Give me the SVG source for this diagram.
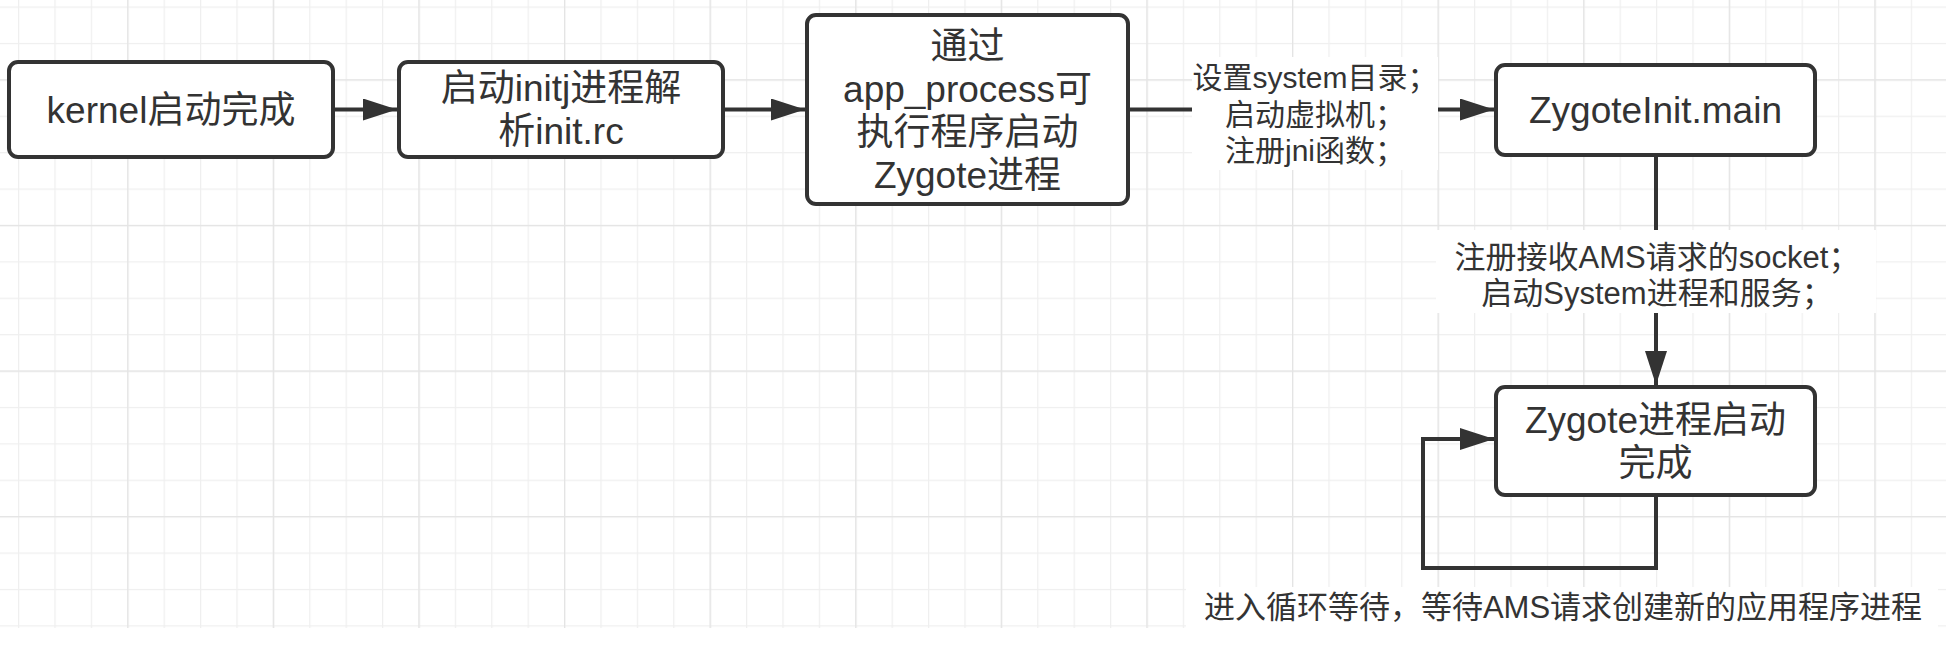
<svg xmlns="http://www.w3.org/2000/svg" width="1946" height="646" viewBox="0 0 1946 646">
<style>
.box{fill:#ffffff;stroke:#333333;stroke-width:4}
.conn{fill:none;stroke:#333333;stroke-width:4}
.t{font-family:"Liberation Sans","Noto Sans CJK SC",sans-serif;font-size:37px;fill:#333333;text-anchor:middle}
.lt{font-family:"Liberation Sans","Noto Sans CJK SC",sans-serif;font-size:30px;fill:#333333;text-anchor:middle}
.lt2{font-family:"Liberation Sans","Noto Sans CJK SC",sans-serif;font-size:31px;fill:#333333;text-anchor:middle}
.lbg{fill:#ffffff}
</style>
<defs>
<pattern id="minor" patternUnits="userSpaceOnUse" x="18" y="6.5" width="36.4" height="36.4">
<path d="M0.5,0 V36.4 M0,0.5 H36.4" stroke="#efefef" stroke-width="1.5" fill="none"/>
</pattern>
<pattern id="major" patternUnits="userSpaceOnUse" x="127.2" y="79.3" width="145.6" height="145.6">
<path d="M0.5,0 V145.6 M0,0.5 H145.6" stroke="#e4e4e4" stroke-width="1.5" fill="none"/>
</pattern>
<marker id="arr" markerUnits="userSpaceOnUse" markerWidth="34" markerHeight="22" refX="34" refY="11" orient="auto">
<path d="M0,0 L34,11 L0,22 z" fill="#333333"/>
</marker>
</defs>
<rect width="1946" height="646" fill="#ffffff"/>
<rect x="0" y="0" width="1946" height="628" fill="url(#minor)"/>
<rect x="0" y="0" width="1946" height="628" fill="url(#major)"/>

<g id="connectors">
<path class="conn" d="M333,109.5 H397" marker-end="url(#arr)"/>
<path class="conn" d="M723,109.5 H805" marker-end="url(#arr)"/>
<path class="conn" d="M1128,109.5 H1494" marker-end="url(#arr)"/>
<path class="conn" d="M1656,155 V385" marker-end="url(#arr)"/>
<path class="conn" d="M1656,495 V568 H1423 V439 H1494" marker-end="url(#arr)"/>
<g id="label-zygote">
<rect class="lbg" x="1192" y="57" width="246" height="113"/>
<text class="lt" x="1315" y="88">设置system目录；</text>
<text class="lt" x="1315" y="125">启动虚拟机；</text>
<text class="lt" x="1315" y="161">注册jni函数；</text>
</g>
<g id="label-main">
<rect class="lbg" x="1436" y="230" width="440" height="83"/>
<text class="lt2" x="1657" y="268">注册接收AMS请求的socket；</text>
<text class="lt2" x="1657" y="304">启动System进程和服务；</text>
</g>
<g id="label-loop">
<rect class="lbg" x="1186" y="587" width="752" height="41"/>
<text class="lt2" x="1563" y="618">进入循环等待，等待AMS请求创建新的应用程序进程</text>
</g>
</g>

<g id="kernel">
<rect class="box" x="9" y="62" width="324" height="95" rx="9"/>
<text class="t" x="171" y="122.5">kernel启动完成</text>
</g>
<g id="init">
<rect class="box" x="399" y="62" width="324" height="95" rx="9"/>
<text class="t" x="561" y="101">启动initj进程解</text>
<text class="t" x="561" y="144">析init.rc</text>
</g>
<g id="app_process">
<rect class="box" x="807" y="15" width="321" height="189" rx="9"/>
<text class="t" x="967.5" y="58.5">通过</text>
<text class="t" x="967.5" y="101.5">app_process可</text>
<text class="t" x="967.5" y="144.5">执行程序启动</text>
<text class="t" x="967.5" y="187.5">Zygote进程</text>
</g>
<g id="zygoteinit">
<rect class="box" x="1496" y="65" width="319" height="90" rx="9"/>
<text class="t" x="1655.5" y="123">ZygoteInit.main</text>
</g>
<g id="zygote-done">
<rect class="box" x="1496" y="387" width="319" height="108" rx="9"/>
<text class="t" x="1655.5" y="432.5">Zygote进程启动</text>
<text class="t" x="1655.5" y="475.5">完成</text>
</g>
</svg>
